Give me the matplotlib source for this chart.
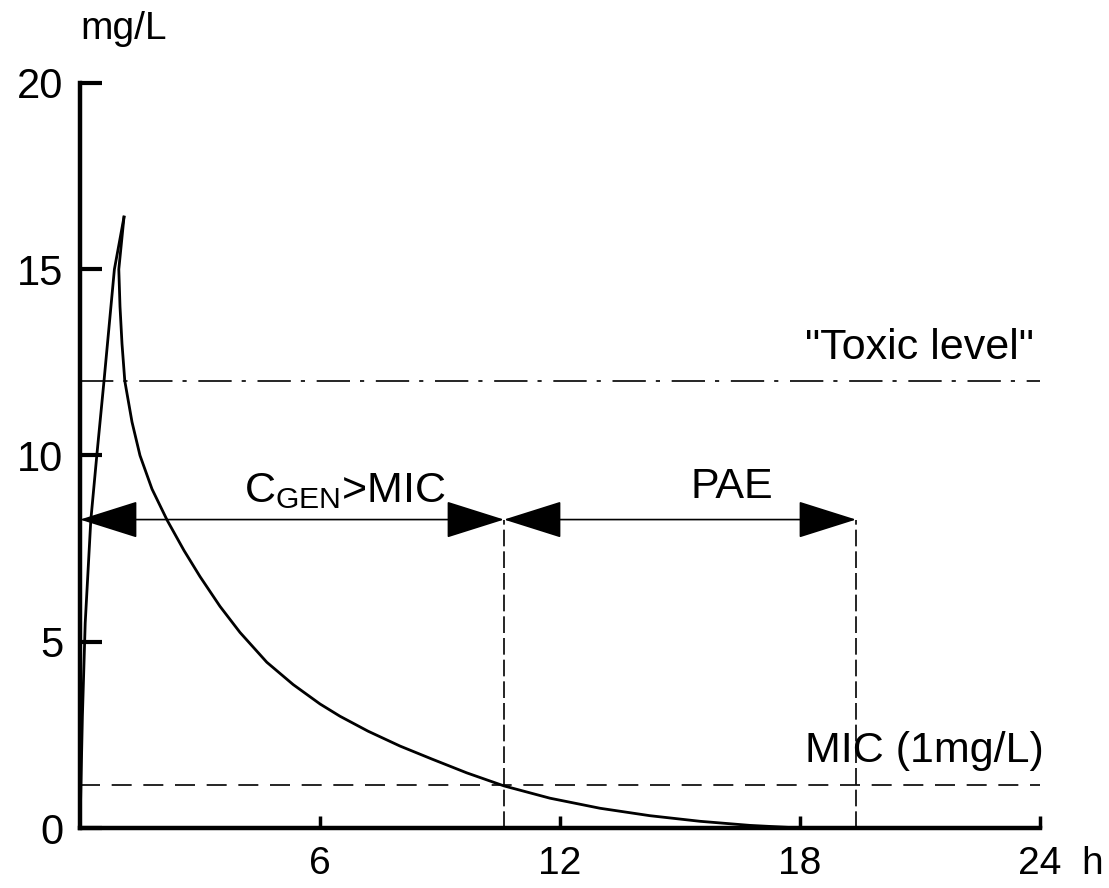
import matplotlib
matplotlib.use('Agg')
import matplotlib.pyplot as plt

plt.rcParams['font.family'] = ['Liberation Sans', 'DejaVu Sans']
plt.rcParams['mathtext.fontset'] = 'custom'
plt.rcParams['mathtext.rm'] = 'Liberation Sans'

# concentration curve (h, mg/L)
riseHours = [0, 0.06, 0.13, 0.27, 0.42, 0.6, 0.86, 1.1]
riseConc = [0, 3.0, 5.5, 8.26, 10.0, 12.0, 15.0, 16.4]
decayHours = [1.1, 0.97, 1.0, 1.05, 1.12, 1.3, 1.5, 1.8, 2.18, 2.6, 3.0, 3.5, 4.0,
              4.67, 5.33, 6.0, 6.5, 7.2, 8.0, 8.8, 9.67, 10.6, 11.75, 13.0,
              14.25, 15.5, 16.75, 18.0]
decayConc = [16.4, 15.0, 14.0, 13.0, 12.0, 10.9, 10.0, 9.1, 8.26, 7.45, 6.75, 5.95, 5.25,
             4.45, 3.85, 3.33, 3.0, 2.6, 2.2, 1.85, 1.48, 1.13, 0.8, 0.53,
             0.33, 0.18, 0.07, 0.0]

toxicLevel = 12.0
micLevel = 1.15
arrowLevel = 8.28
micTime = 10.6
paeEnd = 19.4

xTicks = [6, 12, 18, 24]
xTickLabels = ['6', '12', '18', '24']
yTicks = [0, 5, 10, 15, 20]
yTickLabels = ['0', '5', '10', '15', '20']

fig = plt.figure(figsize=(11.09, 8.88), dpi=100)
ax = fig.add_axes([80 / 1109, 60 / 888, 960 / 1109, 745 / 888])
ax.set_xlim(0, 24)
ax.set_ylim(0, 20)

ax.plot(riseHours, riseConc, color='black', lw=2.0, solid_joinstyle='round')
ax.plot(decayHours, decayConc, color='black', lw=2.0, solid_joinstyle='round')

# reference levels
ax.plot([0, 24], [toxicLevel, toxicLevel], color='black', lw=1.2,
        linestyle=(0, (20, 6, 2.5, 7)))
ax.plot([0, 24], [micLevel, micLevel], color='black', lw=1.2,
        linestyle=(0, (12, 7)))
for xv in [micTime, paeEnd]:
    ax.plot([xv, xv], [0, arrowLevel], color='black', lw=1.2,
            linestyle=(0, (10, 3)))

# double arrows
arrowStyle = '<|-|>,head_length=1.9,head_width=0.6'
for x0, x1 in [(0, micTime), (micTime, paeEnd)]:
    ax.annotate('', xy=(x1, arrowLevel), xytext=(x0, arrowLevel),
                arrowprops=dict(arrowstyle=arrowStyle, mutation_scale=20,
                                lw=1.2, color='black', shrinkA=0, shrinkB=0))

ax.text(4.1, 8.75, r'C$_{\mathrm{GEN}}$>MIC', fontsize=31, ha='left', va='baseline')
ax.text(16.3, 8.86, 'PAE', fontsize=31, ha='center', va='baseline')
ax.text(23.85, 12.6, '"Toxic level"', fontsize=31, ha='right', va='baseline')
ax.text(24.1, 1.77, 'MIC (1mg/L)', fontsize=31, ha='right', va='baseline')
ax.text(1.1, 21.45, 'mg/L', fontsize=28, ha='center', va='center', clip_on=False)

for side in ['top', 'right']:
    ax.spines[side].set_visible(False)
for side in ['left', 'bottom']:
    ax.spines[side].set_linewidth(3.2)
    ax.spines[side].set_capstyle('projecting')

ax.set_xticks(xTicks)
ax.set_xticklabels(xTickLabels)
ax.set_yticks(yTicks)
ax.set_yticklabels(yTickLabels)
ax.tick_params(axis='x', direction='in', length=9, width=2.5, pad=13, labelsize=28)
ax.tick_params(axis='y', direction='in', length=16, width=3, pad=12, labelsize=30)
ax.annotate('h', xy=(24, 0), xytext=(30, -13), textcoords='offset points',
            fontsize=28, ha='left', va='top', annotation_clip=False)

fig.savefig('out.png', dpi=100)
